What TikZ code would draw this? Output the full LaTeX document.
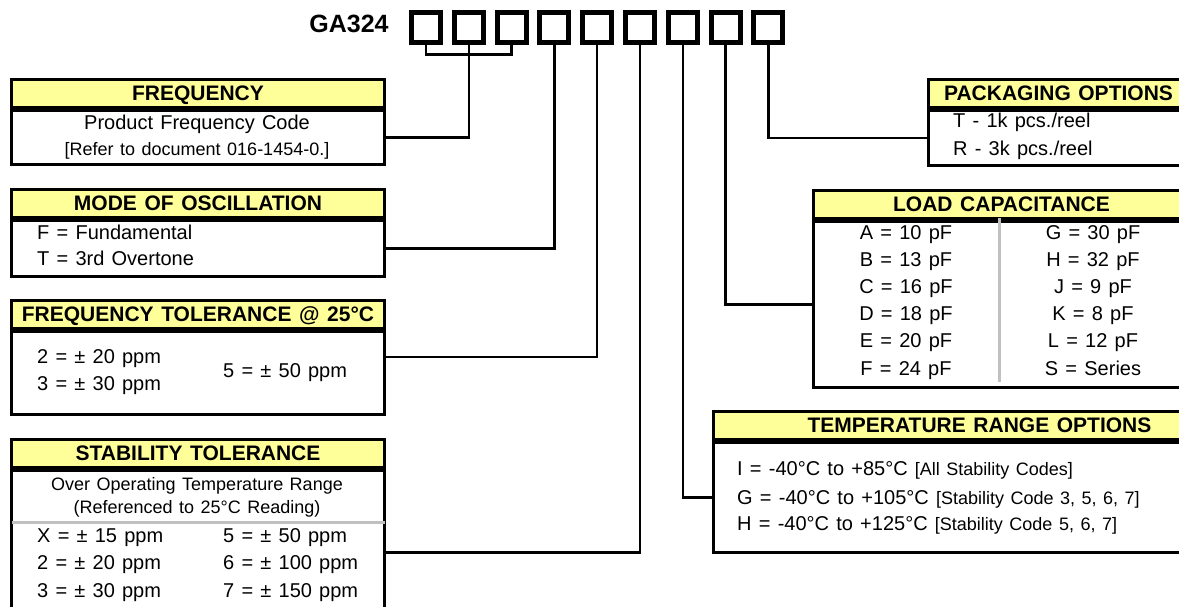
\documentclass[tikz,border=0pt]{standalone}
\usepackage{fontspec}
\setmainfont{Liberation Sans}[WordSpace=1.3]
\usepackage{tikz}
\definecolor{hdryellow}{HTML}{FFFF99}
\definecolor{sepgray}{HTML}{C0C0C0}
\tikzset{
  hdr/.style={draw, line width=3pt, fill=hdryellow, font=\fontsize{21}{24}\selectfont\bfseries,
    inner sep=0pt, minimum height=28pt, text height=15pt, text depth=1pt, anchor=north west},
  bodybox/.style={draw, line width=3pt, inner sep=0pt, anchor=north west},
  codebox/.style={draw, line width=5pt, minimum width=29pt, minimum height=30pt, inner sep=0pt},
  conn/.style={line width=2.5pt},
  txt/.style={font=\fontsize{20}{24}\selectfont, inner sep=0pt, text height=15pt, text depth=1pt, anchor=west},
  sml/.style={font=\fontsize{18}{20}\selectfont},
  sep/.style={sepgray, line width=3pt}
}

\begin{document}
\begin{tikzpicture}[x=1pt,y=-1pt]
	\useasboundingbox (0,0) rectangle (1179,606);
	% part number
	\node[txt, anchor=center, font=\fontsize{25}{30}\selectfont\bfseries] (pn) at (349,25) {GA324};
	\foreach \i in {1,...,9}{
		\node[codebox] (c\i) at ({426+42.8*(\i-1)},27.5) {};
	}

	% left column
	\node[hdr, minimum width=373pt] (fq-h) at (10,78) {FREQUENCY};
	\node[bodybox, minimum width=373pt, minimum height=54pt] (fq) at (fq-h.south west) {};
	\node[txt, anchor=center] (fq-1) at (197,122) {Product Frequency Code};
	\node[txt, anchor=center, sml] (fq-2) at (197,148) {[Refer to document 016-1454-0.]};

	\node[hdr, minimum width=373pt] (mo-h) at (10,188) {MODE OF OSCILLATION};
	\node[bodybox, minimum width=373pt, minimum height=56pt] (mo) at (mo-h.south west) {};
	\node[txt] (mo-1) at (37,232) {F = Fundamental};
	\node[txt] (mo-2) at (37,258) {T = 3rd Overtone};

	\node[hdr, minimum width=373pt] (ft-h) at (10,299) {FREQUENCY TOLERANCE @ 25°C};
	\node[bodybox, minimum width=373pt, minimum height=83pt] (ft) at (ft-h.south west) {};
	\node[txt] (ft-1) at (37,356) {2 = ± 20 ppm};
	\node[txt] (ft-2) at (37,383) {3 = ± 30 ppm};
	\node[txt] (ft-3) at (223,370) {5 = ± 50 ppm};

	\node[hdr, minimum width=373pt] (st-h) at (10,438) {STABILITY TOLERANCE};
	\node[bodybox, minimum width=373pt, minimum height=138pt] (st) at (st-h.south west) {};
	\node[txt, anchor=center, sml] (st-1) at (197,483) {Over Operating Temperature Range};
	\node[txt, anchor=center, sml] (st-2) at (197,506) {(Referenced to 25°C Reading)};
	\draw[sep] ([xshift=1.5pt]st.west |- 0,522) -- ([xshift=-1.5pt]st.east |- 0,522);
	\foreach \l/\r [count=\k] in {X = ± 15 ppm/5 = ± 50 ppm, 2 = ± 20 ppm/6 = ± 100 ppm, 3 = ± 30 ppm/7 = ± 150 ppm}{
		\node[txt] (st-l\k) at (37,{535+27.5*(\k-1)}) {\l};
		\node[txt] (st-r\k) at (223,{535+27.5*(\k-1)}) {\r};
	}

	% right column
	\node[hdr, minimum width=260pt] (pk-h) at (927,78) {PACKAGING OPTIONS};
	\node[bodybox, minimum width=260pt, minimum height=55pt] (pk) at (pk-h.south west) {};
	\node[txt] (pk-1) at (953,120) {T - 1k pcs./reel};
	\node[txt] (pk-2) at (953,148) {R - 3k pcs./reel};

	\node[hdr, minimum width=376pt] (ld-h) at (812,189) {LOAD CAPACITANCE};
	\node[bodybox, minimum width=376pt, minimum height=166pt] (ld) at (ld-h.south west) {};
	\draw[sep] (999,218) -- (999,381.5);
	\foreach \l/\r [count=\k] in {A = 10 pF/G = 30 pF, B = 13 pF/H = 32 pF, C = 16 pF/J = 9 pF,
		D = 18 pF/K = 8 pF, E = 20 pF/L = 12 pF, F = 24 pF/S = Series}{
		\node[txt, anchor=center] (ld-l\k) at (906,{232+27.2*(\k-1)}) {\l};
		\node[txt, anchor=center] (ld-r\k) at (1093,{232+27.2*(\k-1)}) {\r};
	}

	\node[hdr, minimum width=532pt] (tr-h) at (712,410) {TEMPERATURE RANGE OPTIONS};
	\node[bodybox, minimum width=532pt, minimum height=110pt] (tr) at (tr-h.south west) {};
	\node[txt] (tr-1) at (737,468) {I = -40°C to +85°C {\fontsize{18}{20}\selectfont [All Stability Codes]}};
	\node[txt] (tr-2) at (737,497) {G = -40°C to +105°C {\fontsize{18}{20}\selectfont [Stability Code 3, 5, 6, 7]}};
	\node[txt] (tr-3) at (737,523) {H = -40°C to +125°C {\fontsize{18}{20}\selectfont [Stability Code 5, 6, 7]}};

	% connectors
	\draw[conn] (c1.south) -- ++(0,9.5) -| (c3.south);
	\draw[conn] (c2.south) |- (fq.east);
	\draw[conn] (c4.south) |- (mo.east);
	\draw[conn] (c5.south) |- ([yshift=16pt]ft.east);
	\draw[conn] (c6.south) |- ([yshift=-13pt]st.east);
	\draw[conn] (c7.south) |- (tr.west);
	\draw[conn] (c8.south) |- (ld.west);
	\draw[conn] (c9.south) |- (pk.west);
\end{tikzpicture}
\end{document}
